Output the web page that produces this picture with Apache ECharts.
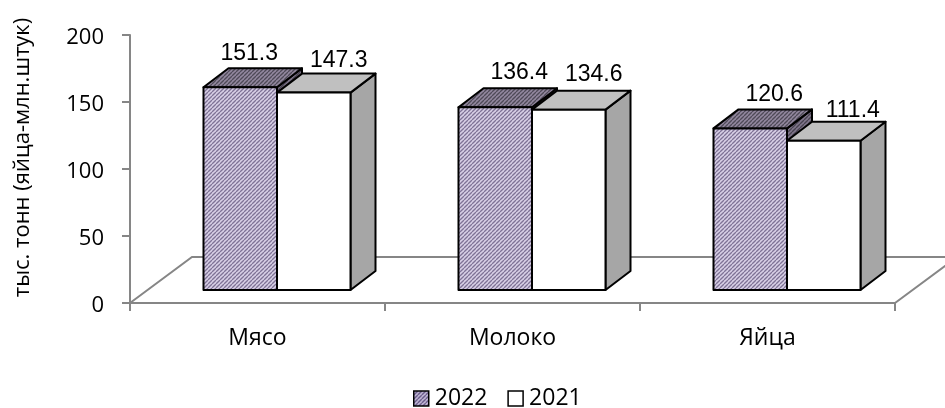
<!DOCTYPE html>
<html>
<head>
<meta charset="utf-8">
<style>html,body{margin:0;padding:0;background:#fff}#c{width:945px;height:408px}</style>
<script src="https://cdn.jsdelivr.net/npm/echarts@6/dist/echarts.min.js"></script>
</head>
<body>
<div id="c"></div>
<script>
const categories = ['Мясо', 'Молоко', 'Яйца'];
const series2022 = [151.3, 136.4, 120.6];
const series2021 = [147.3, 134.6, 111.4];
const yTicks = { min: 0, max: 200, interval: 50 };
const axisTitle = 'тыс. тонн (яйца-млн.штук)';

// Label placement relative to the back top edge of each bar (hand-placed in the original)
const labelNudge2022 = [[-16, -15], [-1, -16], [-1, -15]];
const labelNudge2021 = [[0, -13], [0, -16], [4, -11]];

const FONT = '"Open Sans","Noto Sans",sans-serif';
const ARIAL = '"Liberation Sans",Arial,sans-serif';
const LINE = '#868686';

function hatch(bg, fg) {
  const s = 4, c = document.createElement('canvas');
  c.width = c.height = s;
  const g = c.getContext('2d');
  g.fillStyle = bg; g.fillRect(0, 0, s, s);
  g.strokeStyle = fg; g.lineWidth = 1.3;
  for (let i = -s; i <= s * 2; i += s) {
    g.beginPath(); g.moveTo(i, s); g.lineTo(i + s, 0); g.stroke();
  }
  return { image: c, repeat: 'repeat' };
}
const frontHatch = hatch('#d8d0e6', '#7f7396');
const topHatch = hatch('#93889f', '#4f4a58');
const sideHatch = hatch('#80768c', '#47424f');

// Perspective offsets of the pseudo-3D box
const FRONT = { dx: 19.5, dy: -13 };   // front plane relative to the axis position
const DEPTH = { dx: 25, dy: -19 };     // bar depth
const FLOOR = { dx: 62, dy: -46 };     // floor depth
const BAR_W = 73.5;

function poly(points, fill) {
  return { type: 'polygon', shape: { points }, style: { fill, stroke: '#000', lineWidth: 2, lineJoin: 'round' } };
}

function boxRenderer(side, faces, nudges) {
  return function (params, api) {
    const cat = api.value(0), val = api.value(1);
    const base = api.coord([cat, 0]), top = api.coord([cat, val]);
    const x0 = base[0] + FRONT.dx + (side === 0 ? -BAR_W : 0);
    const x1 = x0 + BAR_W;
    const yb = base[1] + FRONT.dy, yt = top[1] + FRONT.dy;
    const d = DEPTH;
    const n = nudges[params.dataIndex];
    return {
      type: 'group',
      children: [
        poly([[x1, yt], [x1 + d.dx, yt + d.dy], [x1 + d.dx, yb + d.dy], [x1, yb]], faces.side),
        poly([[x0, yt], [x0 + d.dx, yt + d.dy], [x1 + d.dx, yt + d.dy], [x1, yt]], faces.top),
        poly([[x0, yt], [x1, yt], [x1, yb], [x0, yb]], faces.front),
        {
          type: 'text',
          style: {
            text: String(val.toFixed(1)),
            x: (x0 + x1) / 2 + d.dx + n[0],
            y: yt + d.dy + n[1],
            align: 'center',
            verticalAlign: 'middle',
            font: '23px ' + ARIAL,
            fill: '#000'
          }
        }
      ]
    };
  };
}

function floorRenderer(params, api) {
  const half = api.size([1, 0])[0] / 2;
  const n = categories.length - 1;
  const a0 = api.coord([0, 0]), b0 = api.coord([n, 0]);
  const a = [a0[0] - half, a0[1]], b = [b0[0] + half, b0[1]];
  const f = FLOOR;
  return {
    type: 'polyline',
    shape: { points: [a, [a[0] + f.dx, a[1] + f.dy], [b[0] + f.dx, b[1] + f.dy], b] },
    style: { stroke: LINE, lineWidth: 2, fill: 'none' }
  };
}

const chart = echarts.init(document.getElementById('c'), null, { renderer: 'canvas' });
chart.setOption({
  animation: false,
  backgroundColor: '#fff',
  grid: { left: 130, right: 50, top: 35, bottom: 105, outerBoundsMode: 'none' },
  xAxis: {
    type: 'category',
    data: categories,
    boundaryGap: true,
    axisLine: { lineStyle: { color: LINE, width: 2 } },
    axisTick: { show: true, alignWithLabel: false, length: 8, lineStyle: { color: LINE, width: 2 } },
    axisLabel: { color: '#000', fontFamily: FONT, fontSize: 23, margin: 24 }
  },
  yAxis: {
    type: 'value',
    min: yTicks.min, max: yTicks.max, interval: yTicks.interval,
    name: axisTitle,
    nameLocation: 'middle',
    nameGap: 96,
    nameTextStyle: { color: '#000', fontFamily: FONT, fontSize: 22, padding: [0, 0, 0, 23] },
    axisLine: { show: true, lineStyle: { color: LINE, width: 2 } },
    axisTick: { show: true, length: 8, lineStyle: { color: LINE, width: 2 } },
    axisLabel: { color: '#000', fontFamily: FONT, fontSize: 22, margin: 26, verticalAlign: 'top', lineHeight: 6 },
    splitLine: { show: false }
  },
  legend: {
    top: 382,
    left: 408,
    itemWidth: 15, itemHeight: 15, itemGap: 20,
    textStyle: { color: '#000', fontFamily: FONT, fontSize: 23, padding: [0, 0, 0, 1] },
    data: [
      { name: '2022', icon: 'rect', itemStyle: { color: hatch('#c9c0dc', '#5e4f80'), borderColor: '#000', borderWidth: 1.5 } },
      { name: '2021', icon: 'rect', itemStyle: { color: '#fff', borderColor: '#000', borderWidth: 1.5 } }
    ]
  },
  series: [
    { type: 'custom', name: 'floor', silent: true, z: 1, data: [[0, 0]], renderItem: floorRenderer },
    {
      type: 'custom', name: '2022', z: 2, encode: { x: 0, y: 1 },
      data: series2022.map((v, i) => [i, v]),
      renderItem: boxRenderer(0, { front: frontHatch, top: topHatch, side: sideHatch }, labelNudge2022)
    },
    {
      type: 'custom', name: '2021', z: 3, encode: { x: 0, y: 1 },
      data: series2021.map((v, i) => [i, v]),
      renderItem: boxRenderer(1, { front: '#ffffff', top: '#c0c0c0', side: '#a6a6a6' }, labelNudge2021)
    }
  ]
});
</script>
</body>
</html>
